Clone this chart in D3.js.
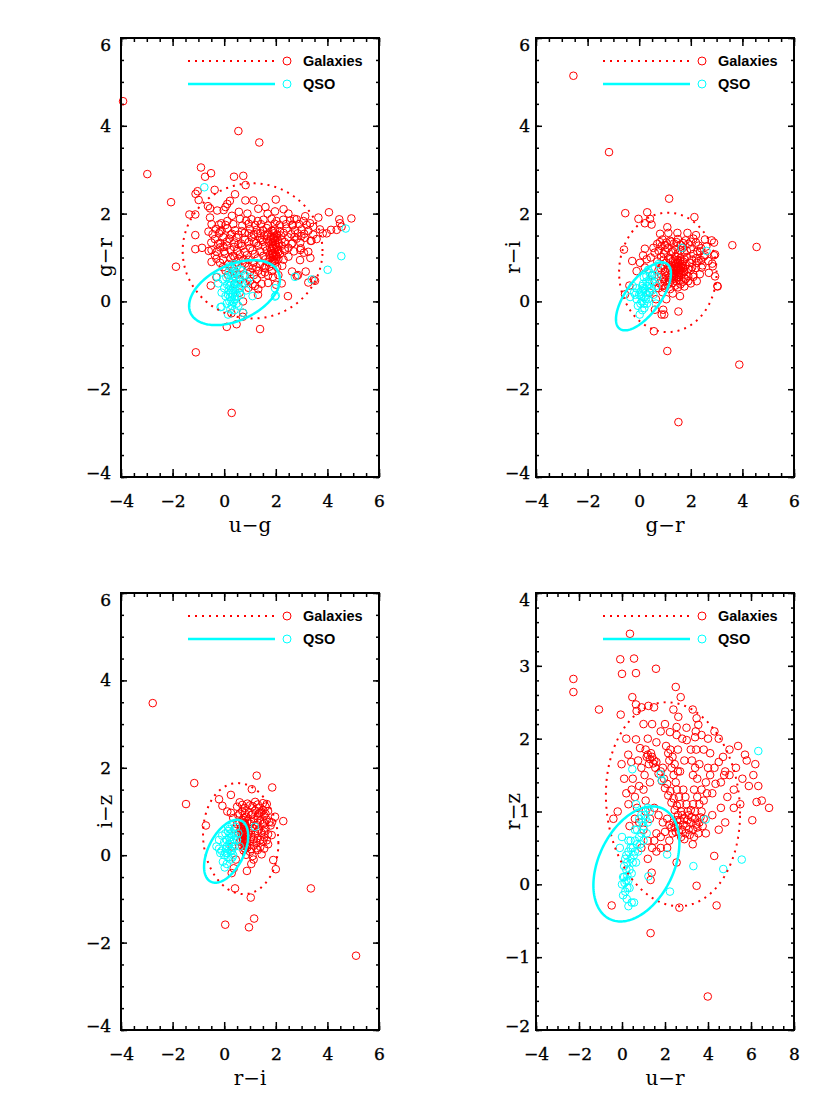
<!DOCTYPE html>
<html>
<head>
<meta charset="utf-8">
<script src="https://cdn.jsdelivr.net/npm/d3@7"></script>
<style>
body { margin: 0; background: #fff; }
</style>
</head>
<body>
<div class="fig"></div>
<script>
// tick labels
var xTicksA = [-4, -2, 0, 2, 4, 6];
var yTicksA = [-4, -2, 0, 2, 4, 6];
var xTicksD = [-4, -2, 0, 2, 4, 6, 8];
var yTicksD = [-2, -1, 0, 1, 2, 3, 4];
var legendNames = ['Galaxies', 'QSO'];

// u-g vs g-r
var galUG = [[-3.92,4.56],[0.55,3.88],[1.36,3.62],[-2.98,2.90],[-0.90,3.05],[-0.51,2.92],[-0.74,2.84],[0.38,2.84],[0.74,2.86],[0.83,2.65],
[-1.03,2.51],[-1.11,2.45],[-0.37,2.54],[-0.99,2.31],[-2.06,2.26],[0.42,2.44],[0.22,2.29],[0.12,2.22],[0.05,2.15],[-0.02,2.08],
[0.82,2.30],[1.13,2.30],[2.00,2.32],[-0.63,2.17],[-0.55,2.12],[-0.27,2.07],[-1.35,1.98],[-1.12,1.98],[0.57,2.04],[1.32,2.11],
[1.68,2.00],[1.97,2.05],[2.49,2.00],[3.14,1.94],[3.65,1.91],[4.06,2.03],[4.93,1.89],[4.46,1.87],[4.49,1.78],[4.55,1.70],
[3.82,1.55],[3.97,1.55],[4.14,1.63],[4.36,1.63],[3.38,1.38],[2.99,1.49],[2.72,1.47],[2.72,1.88],[3.33,1.78],[3.35,1.38],
[2.97,1.21],[3.26,1.13],[2.94,0.94],[2.95,1.17],[3.09,1.11],[3.34,0.99],[2.61,1.31],[2.25,0.81],[2.49,1.02],[2.63,0.68],
[2.86,0.60],[3.16,0.68],[2.81,0.58],[3.26,0.43],[3.47,0.49],[3.52,0.47],[2.47,0.12],[2.01,0.38],[1.89,0.56],[2.23,0.41],
[1.19,0.35],[1.31,0.15],[0.73,-0.26],[0.73,0.00],[1.39,-0.63],[0.72,-0.35],[0.48,-0.52],[0.10,-0.58],[0.28,-0.27],[-0.52,0.36],
[-1.87,0.79],[-1.12,1.19],[-0.86,1.22],[-0.49,1.17],[-0.29,1.13],[-0.49,0.90],[-1.12,1.51],[-1.10,-1.16],[0.29,-2.54],
[-0.55,1.91],[-0.11,1.78],[-0.61,1.59],[-0.49,1.76],[-0.16,1.59],[-0.23,1.31],[-0.03,1.25],
[0.12,1.83],[0.61,1.88],[0.85,1.84],[1.06,1.87],[1.30,1.83],[1.52,1.86],[1.84,1.88],[2.03,1.83],[2.29,1.86],[2.55,1.84],[2.81,1.87],[3.07,1.83],
[-0.32,1.65],[-0.10,1.61],[0.12,1.66],[0.42,1.62],[0.68,1.60],[1.00,1.65],[1.26,1.63],[1.65,1.67],[1.84,1.61],[1.97,1.64],[2.16,1.60],[2.42,1.66],[2.74,1.62],[3.00,1.64],[3.26,1.61],[3.71,1.64],
[-0.36,1.42],[-0.03,1.46],[0.20,1.43],[0.48,1.45],[0.81,1.41],[1.06,1.46],[1.39,1.44],[1.65,1.42],[1.81,1.47],[1.90,1.43],[2.03,1.45],[2.23,1.41],[2.49,1.46],[2.81,1.43],[3.13,1.45],[3.58,1.42],
[-0.16,1.23],[0.10,1.27],[0.38,1.24],[0.68,1.26],[1.00,1.22],[1.32,1.27],[1.58,1.25],[1.77,1.23],[1.90,1.26],[2.03,1.24],[2.23,1.27],[2.49,1.22],
[-0.36,1.05],[0.03,1.08],[0.35,1.04],[0.61,1.07],[0.87,1.05],[1.19,1.08],[1.52,1.04],[1.75,1.06],[1.88,1.07],[2.01,1.05],[2.16,1.08],
[-0.16,0.88],[0.16,0.85],[0.48,0.89],[0.81,0.86],[1.13,0.88],[1.39,0.85],[1.71,0.89],[1.84,0.86],[1.97,0.88],
[0.35,0.69],[1.00,0.67],[1.32,0.70],[1.58,0.66],[1.84,0.69],[0.61,0.50],[1.00,0.47],[1.26,0.51],[0.94,0.31],[1.32,0.28],
[1.92,1.55],[1.95,1.48],[1.88,1.35],[1.98,1.30],[1.93,1.20],[1.96,1.12],[1.90,1.02],[2.00,0.96],[1.94,0.92],[1.85,1.10],
[2.06,1.18],[1.82,1.42],[2.08,1.40],[1.40,1.55],[1.50,1.62],[1.55,1.50],[1.45,1.40],
[0.30,1.95],[0.90,2.00],[1.60,2.15],[2.30,2.10],[2.65,1.75],[3.45,1.70],[0.25,1.52],[0.55,1.30],[0.95,1.55],[1.15,1.35],
[0.75,0.95],[0.40,1.00],[1.10,0.75],[1.60,0.80],[2.35,1.20],[2.20,1.50],[0.05,0.70],[-0.30,0.55],[0.60,0.20],
[-0.20,1.75],[0.05,1.74],[0.35,1.76],[0.70,1.73],[0.95,1.77],[1.20,1.74],[1.42,1.76],[1.70,1.73],[1.95,1.77],[2.15,1.74],[2.40,1.76],[2.65,1.73],[2.90,1.76],[3.20,1.74],
[-0.45,1.53],[-0.20,1.55],[0.30,1.54],[0.55,1.52],[0.80,1.56],[1.15,1.53],[1.30,1.55],[1.70,1.54],[2.05,1.52],[2.30,1.56],[2.60,1.53],[2.85,1.55],[3.10,1.54],[3.45,1.52],
[-0.50,1.34],[-0.15,1.33],[0.10,1.36],[0.40,1.34],[0.65,1.32],[0.95,1.35],[1.25,1.33],[1.50,1.36],[1.72,1.34],[2.12,1.32],[2.35,1.35],[2.65,1.33],[2.95,1.34],
[-0.60,1.15],[0.00,1.14],[0.25,1.17],[0.50,1.15],[0.80,1.13],[1.10,1.16],[1.40,1.14],[1.65,1.16],[1.82,1.15],[2.10,1.13],[2.35,1.16],[2.70,1.14],
[-0.30,0.97],[-0.05,0.96],[0.25,0.98],[0.55,0.97],[0.95,0.95],[1.30,0.98],[1.60,0.96],[1.78,0.98],[2.10,0.97],[2.30,0.95],
[-0.05,0.78],[0.30,0.79],[0.65,0.77],[0.95,0.79],[1.25,0.78],[1.55,0.76],[1.75,0.79],[2.05,0.78],
[0.15,0.60],[0.50,0.61],[0.80,0.59],[1.15,0.60],[1.45,0.62],[1.70,0.59],[2.10,0.60],[0.40,0.40],[0.80,0.41],[1.10,0.39],[1.45,0.40],[1.70,0.42],
[1.90,1.60],[1.95,1.05],[1.88,0.95],[2.02,1.25],[1.97,1.38],[1.86,1.22],[2.04,1.02],[1.92,1.45]];
var qsoUG = [[-0.77,2.60],[4.71,1.66],[4.54,1.03],[4.01,0.72],[3.39,0.50],[2.74,0.56],[1.97,0.30],[2.00,0.13],[0.74,-0.26],[-0.10,-0.12],
[-0.28,0.56],[-0.14,-0.13],[1.10,0.12],[1.97,0.11],[-0.23,0.41],
[0.20,0.00],[0.30,0.10],[0.25,0.20],[0.35,0.30],[0.40,0.05],[0.15,0.15],[0.30,-0.10],[0.45,0.20],[0.50,0.40],[0.20,0.35],
[0.35,0.50],[0.60,0.55],[0.45,0.65],[0.25,0.60],[0.55,0.30],[0.10,-0.05],[0.40,-0.20],[0.20,0.45],[0.65,0.15],[0.70,0.40],
[0.00,0.30],[0.30,0.75],[0.50,0.80],[0.80,0.60],[0.15,-0.30],[0.38,0.38],[0.28,0.02],[0.42,0.12],[0.32,0.25],[0.22,0.10],
[-0.05,0.50],[0.85,0.25],[1.00,0.55],[0.18,0.68],[0.62,0.72],[0.05,0.12],[0.48,-0.05],
[0.33,0.18],[0.27,0.42],[0.38,0.58],[0.52,0.12],[0.18,0.25],[0.43,0.28],[0.24,-0.18],[0.36,-0.02],[0.58,0.45],[0.12,0.38],
[0.47,0.52],[0.30,0.62],[0.08,0.55],[0.62,0.30],[0.55,-0.10],[0.40,0.85],[0.70,0.70],[0.20,0.80],[-0.10,0.20],[0.90,0.45]];
// ellipse: [centre x, centre y, half width, half height, correlation]
var galEllUG = [1.10, 1.15, 2.71, 1.54, 0.0];
var qsoEllUG = [0.40, 0.20, 1.76, 0.74, 0.41];

// g-r vs r-i
var galRG = [[-2.55,5.14],[-1.17,3.40],[1.16,2.34],[-0.54,2.01],[0.31,2.03],[-0.03,1.88],[0.42,1.88],[0.22,1.78],[0.48,1.75],[2.14,1.92],
[3.61,1.28],[4.55,1.24],[-0.59,1.18],[3.88,-1.44],[1.52,-2.75],[1.09,-1.13],[0.57,-0.68],[1.52,-0.23],[1.58,0.12],[3.04,0.34],
[2.83,0.86],[2.90,1.05],[0.93,-0.19],[0.87,-0.30],[0.61,-0.19],[1.09,1.69],[0.81,1.54],[1.13,1.56],[1.48,1.56],[1.87,1.56],
[2.20,1.51],[2.55,1.41],[2.81,1.39],[2.90,1.34],[0.22,1.20],[0.55,1.22],[0.87,1.26],[-0.27,0.92],[0.03,0.88],[0.29,0.96],
[2.36,1.14],[2.55,1.05],[2.68,0.92],[2.85,0.80],[2.94,1.07],[2.94,0.57],[3.03,0.35],[2.23,0.88],[2.42,0.77],[2.10,0.61],
[1.90,0.46],[2.23,0.46],[0.97,-0.30],[-0.55,0.16],[-0.38,0.36],[-0.10,0.69],[0.22,0.77],
[0.90,1.41],[1.20,1.38],[1.50,1.42],[1.80,1.39],[2.10,1.43],[0.70,1.31],[1.00,1.28],[1.35,1.32],[1.60,1.29],[1.90,1.31],[2.30,1.27],
[1.10,1.21],[1.40,1.18],[1.70,1.22],[2.00,1.19],[2.40,1.21],[0.60,1.11],[0.95,1.08],[1.25,1.12],[1.50,1.09],[1.75,1.11],[2.10,1.08],
[0.85,1.01],[1.15,0.98],[1.40,1.02],[1.60,0.99],[1.85,1.01],[2.20,0.98],[2.50,1.02],[0.70,0.91],[1.05,0.88],[1.30,0.92],[1.50,0.89],
[1.70,0.91],[1.95,0.88],[2.30,0.92],[0.90,0.81],[1.20,0.78],[1.40,0.82],[1.60,0.79],[1.80,0.81],[2.05,0.78],[2.45,0.82],
[0.75,0.71],[1.00,0.68],[1.20,0.72],[1.35,0.69],[1.55,0.71],[1.75,0.68],[2.00,0.72],[0.85,0.61],[1.05,0.58],[1.25,0.62],[1.45,0.59],
[1.65,0.61],[1.90,0.58],[2.35,0.62],[0.95,0.51],[1.15,0.48],[1.35,0.52],[1.55,0.49],[1.80,0.51],[0.80,0.41],[1.10,0.38],[1.30,0.42],
[1.60,0.39],[2.00,0.41],[1.00,0.31],[1.20,0.28],[1.50,0.32],[0.90,0.21],[1.30,0.18],
[1.32,0.72],[1.42,0.85],[1.52,0.66],[1.38,0.95],[1.62,0.78],[1.48,0.55],[1.28,0.58],[1.58,0.92],[1.72,0.68],[1.36,0.65],[1.45,0.76],[1.55,0.82],
[0.60,0.45],[0.75,0.30],[0.50,0.60],[0.40,0.20],[0.65,0.05],[1.05,0.05],[0.45,1.00],[0.15,1.05],[2.60,1.25],[2.70,0.65],
[0.80,1.35],[1.05,1.34],[1.25,1.36],[1.45,1.35],[1.70,1.33],[2.00,1.36],[2.20,1.34],
[0.75,1.15],[1.00,1.16],[1.30,1.14],[1.60,1.16],[1.85,1.15],[2.25,1.14],
[0.95,0.95],[1.20,0.96],[1.50,0.94],[1.75,0.96],[2.05,0.95],[2.40,0.94],
[0.85,0.75],[1.10,0.76],[1.30,0.74],[1.50,0.75],[1.70,0.77],[1.90,0.74],[2.20,0.76],
[0.95,0.55],[1.15,0.54],[1.35,0.56],[1.55,0.55],[1.75,0.54],[2.10,0.56],[1.00,0.45],[1.20,0.44],[1.45,0.46],[1.70,0.45],
[0.90,0.35],[1.40,0.36],[1.75,0.34],
[1.45,0.70],[1.50,0.78],[1.60,0.72],[1.40,0.62],[1.55,0.60],[1.65,0.85],[1.35,0.80],[1.50,0.88],[1.60,0.65],[1.70,0.75]];
var qsoRG = [[1.65,1.22],[2.61,1.15],[-0.35,0.10],[-0.20,0.20],[-0.10,0.05],[0.00,0.15],[0.10,0.25],[0.20,0.10],[0.30,0.35],[0.15,0.40],
[0.40,0.50],[0.50,0.45],[0.25,0.20],[0.05,-0.05],[0.35,0.05],[0.45,0.30],[0.60,0.60],[0.55,0.15],[0.20,-0.15],[-0.10,0.30],
[0.10,0.00],[0.30,-0.05],[0.70,0.55],[0.65,0.35],[0.15,0.30],[0.38,0.22],[0.25,0.05],[0.08,0.12],[-0.05,-0.10],[0.28,0.45],
[0.48,0.58],[0.18,0.55],[0.55,0.75],[0.75,0.85],[0.02,-0.30],[0.65,-0.05],[-0.25,0.35],[0.42,0.65],[0.12,-0.20],
[0.22,0.28],[0.32,0.15],[0.12,0.35],[0.40,0.40],[0.05,0.22],[0.28,0.58],[0.50,0.25],[0.35,0.72],[-0.15,0.15],[0.18,-0.05]];
var galEllRG = [1.11, 0.66, 1.89, 1.36, 0.0];
var qsoEllRG = [0.165, 0.115, 1.065, 0.775, 0.67];

// r-i vs i-z
var galRI = [[-2.77,3.48],[-1.16,1.65],[-1.48,1.17],[1.26,1.82],[1.86,1.55],[1.07,1.51],[0.26,1.38],[-0.20,1.28],[-0.07,1.13],[0.12,1.00],
[0.26,0.97],[-0.71,0.68],[2.29,0.78],[1.97,0.88],[5.11,-2.30],[3.36,-0.76],[1.03,-0.97],[0.04,-1.59],[0.96,-1.65],[1.16,-1.45],
[0.42,-0.76],[1.90,-0.11],[2.00,-0.32],[1.84,0.46],[1.05,-0.20],[1.14,-0.10],[0.88,-0.36],[0.29,-0.41],[0.37,-0.30],[1.65,1.17],
[1.52,1.03],[1.39,0.97],
[0.60,1.21],[0.90,1.18],[1.20,1.22],[1.50,1.19],[0.50,1.11],[0.80,1.08],[1.10,1.12],[1.35,1.09],[1.60,1.11],
[0.70,1.01],[0.95,0.98],[1.20,1.02],[1.45,0.99],[1.70,1.01],[0.55,0.91],[0.85,0.88],[1.05,0.92],[1.30,0.89],[1.55,0.91],
[0.70,0.81],[0.90,0.78],[1.15,0.82],[1.40,0.79],[1.65,0.81],[0.50,0.71],[0.80,0.68],[1.00,0.72],[1.25,0.69],[1.50,0.71],[1.80,0.68],
[0.65,0.61],[0.85,0.58],[1.10,0.62],[1.35,0.59],[1.60,0.61],[0.55,0.51],[0.75,0.48],[0.95,0.52],[1.20,0.49],[1.45,0.51],[1.70,0.48],
[0.70,0.41],[0.85,0.38],[1.05,0.42],[1.30,0.39],[1.55,0.41],[0.60,0.31],[0.80,0.28],[1.00,0.32],[1.25,0.29],[1.50,0.31],
[0.70,0.21],[0.90,0.18],[1.15,0.22],[1.40,0.19],[0.75,0.11],[1.00,0.08],[1.30,0.12],[0.85,0.01],[1.10,-0.02],[1.45,0.02],
[0.72,0.75],[0.76,0.65],[0.74,0.55],[0.78,0.45],[0.73,0.35],[0.77,0.25],[0.80,0.15],[0.82,0.62],[0.68,0.48],[0.80,0.38],
[0.35,0.85],[0.40,0.60],[0.30,0.20],[0.45,-0.10],[1.70,0.25],[1.85,0.75],
[0.70,1.15],[1.00,1.14],[1.30,1.16],[0.60,0.95],[0.80,0.96],[1.10,0.94],[1.35,0.96],[1.60,0.95],
[0.60,0.75],[0.80,0.74],[1.05,0.76],[1.30,0.75],[1.55,0.74],[1.75,0.76],[0.65,0.55],[0.85,0.54],[1.05,0.56],[1.30,0.55],[1.55,0.54],
[0.65,0.35],[0.90,0.34],[1.15,0.36],[1.40,0.35],[1.65,0.34],[0.80,0.15],[1.05,0.14],[1.25,0.16],[1.55,0.15],
[0.82,0.50],[0.79,0.70],[0.83,0.30],[0.86,0.20],[0.75,0.85],[0.88,0.42]];
var qsoRI = [[1.19,0.65],[-0.30,0.20],[-0.20,0.35],[-0.10,0.10],[0.00,0.00],[0.10,0.20],[0.20,0.40],[0.05,0.50],[0.15,-0.05],[0.25,0.10],
[0.30,0.30],[0.35,0.50],[0.45,0.65],[0.20,0.60],[-0.05,-0.15],[0.10,-0.20],[0.25,-0.10],[0.40,0.20],[0.50,0.35],[0.00,0.30],
[0.12,0.05],[0.18,0.25],[0.08,0.15],[-0.15,0.05],[0.30,0.70],[-0.08,0.45],[0.35,0.00],[0.55,0.50],[0.22,0.32],[0.02,-0.28],
[0.60,0.20],[0.15,0.55],[0.28,0.42],
[0.20,0.15],[0.10,0.35],[0.30,0.10],[0.05,0.05],[0.25,0.50],[0.38,0.35],[0.15,0.65],[-0.20,0.15],[0.45,0.45],[0.32,-0.05]];
var galEllRI = [0.64, 0.38, 1.46, 1.27, -0.08];
var qsoEllRI = [0.075, 0.09, 0.855, 0.72, 0.49];

// u-r vs r-z
var galUR = [[0.37,3.44],[-0.08,3.09],[0.56,3.10],[0.00,2.89],[0.65,2.90],[1.58,2.96],[-2.26,2.82],[-2.26,2.64],[2.50,2.71],[-1.07,2.40],
[-0.06,2.33],[0.48,2.57],[0.65,2.47],[0.68,2.38],[0.91,2.43],[2.73,2.57],[1.23,2.45],[1.49,2.43],[2.39,2.40],[3.29,2.40],
[2.62,2.30],[2.54,2.16],[2.23,2.09],[2.54,2.05],[3.47,2.28],[3.55,2.19],[3.43,2.10],[3.40,2.02],[3.01,1.98],[0.65,1.99],
[0.84,1.87],[0.29,1.78],[0.43,1.68],[-0.02,1.65],[5.72,1.78],[6.11,1.50],[6.34,1.35],[6.26,1.13],[6.84,1.05],[6.06,0.88],
[4.29,0.39],[3.47,-0.02],[4.40,-0.29],[2.67,-0.32],[-0.48,-0.29],[1.33,-0.67],[3.99,-1.54],[1.38,0.16],[1.33,0.06],[2.54,0.30],[3.29,0.55],
[1.10,1.85],[1.20,1.78],[1.30,1.72],[1.45,1.66],[1.55,1.60],[1.70,1.52],[1.85,1.42],[2.00,1.32],[2.15,1.22],[2.30,1.12],
[2.45,1.02],[2.60,0.95],[1.15,1.75],[1.35,1.80],[1.50,1.70],[1.25,1.65],
[2.05,1.90],[2.15,1.80],[2.20,1.70],[2.30,1.60],[2.40,1.50],[2.50,1.40],[2.55,1.30],[2.65,1.20],[2.70,1.10],[2.75,1.00],
[3.30,1.10],[3.50,1.20],[3.70,1.30],[3.90,1.40],[4.10,1.50],[4.30,1.60],[4.50,1.68],[4.70,1.75],[3.40,1.00],[3.80,1.15],
[4.20,1.25],[4.60,1.40],[5.00,1.50],[5.30,1.60],[4.90,1.20],[5.20,1.30],[5.50,1.10],[4.60,1.05],
[3.35,1.30],[3.30,1.50],[3.25,1.70],[3.20,1.85],[3.50,1.45],[3.60,1.65],[3.80,1.85],[4.00,2.00],[4.30,2.10],[4.10,1.80],
[2.60,0.80],[2.80,0.75],[3.00,0.80],[3.20,0.85],[3.40,0.90],[3.60,0.85],[2.90,0.90],[3.10,0.95],[3.30,0.75],[2.70,0.88],
[3.50,0.78],[3.80,0.90],[2.50,0.72],[2.95,0.70],[3.15,0.68],[2.40,0.85],[2.75,0.65],[3.05,1.00],
[1.60,0.70],[1.80,0.65],[2.00,0.72],[2.20,0.60],[1.90,0.85],[2.10,0.90],[1.70,0.95],[1.40,0.50],[1.60,0.45],[2.30,0.78],
[1.30,0.90],[1.50,1.05],[1.00,0.75],[0.90,0.50],[1.20,0.35],
[0.50,1.45],[0.80,1.35],[0.60,1.20],[1.00,1.30],[0.30,1.10],[0.70,1.05],[1.10,1.15],[-0.40,0.90],[-0.20,1.00],[0.20,1.25],
[0.90,1.60],[1.30,1.40],[4.50,2.00],[5.00,1.85],[5.40,1.90],[5.80,1.70],[6.20,1.65],[4.80,1.55],[5.60,1.45],[4.00,1.60],
[5.90,1.35],[6.50,1.15],[5.20,1.05],[4.20,0.95],[4.80,0.85],[3.90,0.70],[4.50,0.75],
[1.80,2.10],[2.80,2.00],[1.60,1.95],[2.60,1.85],[2.90,1.70],[1.90,1.60],[2.70,1.55],[2.00,2.20],[3.00,2.15],
[2.65,0.72],[2.85,0.82],[3.05,0.88],[3.25,0.92],[3.45,0.82],[3.65,0.92],[2.55,0.88],[2.90,0.62],[3.35,0.65],[3.55,0.70],
[3.75,0.80],[2.45,0.78],[3.10,0.75],[2.80,0.95],[3.20,1.02],[3.70,1.00],[2.35,0.70],[2.20,0.82],
[1.40,1.75],[1.60,1.68],[1.80,1.55],[1.95,1.45],[2.10,1.38],[2.25,1.28],[2.40,1.18],[2.55,1.08],[2.25,1.85],[2.35,1.75],
[2.45,1.65],[2.60,1.55],[2.85,1.30],[2.95,1.20],[3.00,1.10],[3.60,1.10],[3.95,1.25],[4.35,1.38],[4.75,1.50],[3.40,1.60],
[3.45,1.85],[3.70,2.05],
[1.80,0.50],[2.10,0.50],[1.50,0.60],[1.20,0.60],[0.80,0.85],[1.10,1.00],[0.60,0.90],[0.35,0.80],[0.45,1.30],[0.10,1.45],
[0.75,1.70],[1.05,1.50],[0.20,2.00],[1.00,2.20],[1.40,2.20],[1.20,2.00]];
var qsoUR = [[6.34,1.83],[0.48,1.58],[1.80,1.51],[1.85,1.43],[0.65,1.10],[3.32,0.25],[5.57,0.34],[4.71,0.21],[2.23,-0.10],[0.56,-0.25],
[3.89,0.89],[2.10,0.41],[1.23,0.11],
[0.00,0.00],[0.10,0.10],[0.20,0.20],[0.15,-0.10],[0.30,0.05],[0.25,0.30],[0.40,0.35],[0.30,0.45],[0.50,0.50],[0.60,0.60],
[0.70,0.55],[0.80,0.65],[0.90,0.70],[1.00,0.80],[1.10,0.90],[1.20,0.85],[0.55,0.40],[0.45,0.15],[0.20,0.40],[0.10,0.25],
[0.35,-0.05],[0.05,-0.15],[0.60,0.75],[0.90,0.95],[1.30,1.00],[0.75,0.45],[1.00,0.60],[0.40,0.60],[-0.10,0.50],[0.00,0.65],
[0.25,0.12],[0.12,0.02],[0.45,-0.25],[0.30,-0.30],[0.65,0.30],[1.15,0.70],
[0.20,0.05],[0.35,0.20],[0.25,-0.05],[0.50,0.30],[0.15,0.35],[0.70,0.75],[0.85,0.55],[1.05,0.95],[0.40,0.50],[0.05,0.10],
[0.30,0.60],[0.95,0.85],[0.60,0.45],[0.22,-0.20],[1.20,1.05],[0.80,0.90]];
var galEllUR = [2.37, 1.10, 3.12, 1.40, -0.09];
var qsoEllUR = [0.67, 0.28, 2.00, 0.79, 0.37];

var panels = [
	{gal: galUG, qso: qsoUG, galEll: galEllUG, qsoEll: qsoEllUG, xDom: [-4, 6], yDom: [-4, 6], xTicks: xTicksA, yTicks: yTicksA,
	 xMinor: 0.5, yMinor: 0.5, xTitle: 'u\u2212g', yTitle: 'g\u2212r', left: 121, top: 38, h: 439, pad: 10, titleOff: 9},
	{gal: galRG, qso: qsoRG, galEll: galEllRG, qsoEll: qsoEllRG, xDom: [-4, 6], yDom: [-4, 6], xTicks: xTicksA, yTicks: yTicksA,
	 xMinor: 0.5, yMinor: 0.5, xTitle: 'g\u2212r', yTitle: 'r\u2212i', left: 536, top: 38, h: 439, pad: 6, titleOff: 16},
	{gal: galRI, qso: qsoRI, galEll: galEllRI, qsoEll: qsoEllRI, xDom: [-4, 6], yDom: [-4, 6], xTicks: xTicksA, yTicks: yTicksA,
	 xMinor: 0.5, yMinor: 0.5, xTitle: 'r\u2212i', yTitle: 'i\u2212z', left: 121, top: 593, h: 437, pad: 10, titleOff: 9},
	{gal: galUR, qso: qsoUR, galEll: galEllUR, qsoEll: qsoEllUR, xDom: [-4, 8], yDom: [-2, 4], xTicks: xTicksD, yTicks: yTicksD,
	 xMinor: 0.5, yMinor: 0.2, xTitle: 'u\u2212r', yTitle: 'r\u2212z', left: 536, top: 593, h: 437, pad: 6, titleOff: 16}
];

var W = 258;
var RED = '#ff0000', CYAN = '#00ffff';
var numFont = '"DejaVu Serif", serif';

var svg = d3.select('.fig').append('svg')
	.attr('width', 830)
	.attr('height', 1107)
	.style('background-color', '#fff');

function fmt(d) {
	return d < 0 ? '\u2212' + Math.abs(d) : String(d);
}

function ellipsePts(e) {
	var k = Math.sqrt(1 - e[4] * e[4]);
	return d3.range(0, 360, 2).map(function (a) {
		var t = a * Math.PI / 180;
		return [e[0] + e[2] * Math.cos(t), e[1] + e[3] * (e[4] * Math.cos(t) + k * Math.sin(t))];
	});
}

panels.forEach(function (p) {
	var x = d3.scaleLinear().domain(p.xDom).range([p.left, p.left + W]);
	var y = d3.scaleLinear().domain(p.yDom).range([p.top + p.h, p.top]);
	var g = svg.append('g');
	var xMinor = d3.range(p.xDom[0], p.xDom[1] + 1e-9, p.xMinor);
	var yMinor = d3.range(p.yDom[0], p.yDom[1] + 1e-9, p.yMinor);
	var bottom = p.top + p.h, right = p.left + W;

	function addAxis(axis, tx, ty) {
		var a = g.append('g').attr('class', 'ax')
			.attr('transform', 'translate(' + tx + ',' + ty + ')')
			.call(axis);
		a.select('.domain').remove();
		return a;
	}
	// minor ticks on all four sides
	addAxis(d3.axisBottom(x).tickValues(xMinor).tickSize(-4).tickFormat(''), 0, bottom);
	addAxis(d3.axisTop(x).tickValues(xMinor).tickSize(-4).tickFormat(''), 0, p.top);
	addAxis(d3.axisLeft(y).tickValues(yMinor).tickSize(-3).tickFormat(''), p.left, 0);
	addAxis(d3.axisRight(y).tickValues(yMinor).tickSize(-3).tickFormat(''), right, 0);
	// major ticks
	addAxis(d3.axisBottom(x).tickValues(p.xTicks).tickSize(-8).tickPadding(18).tickFormat(fmt), 0, bottom);
	addAxis(d3.axisTop(x).tickValues(p.xTicks).tickSize(-8).tickFormat(''), 0, p.top);
	var ya = addAxis(d3.axisLeft(y).tickValues(p.yTicks).tickSize(-6).tickPadding(p.pad).tickFormat(fmt), p.left, 0);
	addAxis(d3.axisRight(y).tickValues(p.yTicks).tickSize(-6).tickFormat(''), right, 0);
	ya.selectAll('text').attr('y', function (d) {
		return d === p.yDom[1] ? 7 : (d === p.yDom[0] ? -4 : 0);
	});
	g.selectAll('.ax .tick line').attr('stroke', '#000').attr('stroke-width', 1.5);
	g.selectAll('.ax text')
		.style('font-family', numFont)
		.style('font-size', '17px')
		.attr('fill', '#000')
		.attr('stroke', '#000')
		.attr('stroke-width', 0.35);

	// axis titles
	g.append('text')
		.attr('x', p.left + W / 2)
		.attr('y', bottom + 55)
		.attr('text-anchor', 'middle')
		.style('font-family', numFont)
		.style('font-size', '20px')
		.text(p.xTitle);
	g.append('text')
		.attr('transform', 'translate(' + (p.left - p.titleOff) + ',' + (p.top + p.h / 2) + ') rotate(-90)')
		.attr('text-anchor', 'middle')
		.style('font-family', numFont)
		.style('font-size', '20px')
		.text(p.yTitle);

	// points
	g.append('g').selectAll('circle')
		.data(p.gal)
		.enter()
		.append('circle')
		.attr('cx', function (d) { return x(d[0]); })
		.attr('cy', function (d) { return y(d[1]); })
		.attr('r', 3.8)
		.style('fill', 'none')
		.style('stroke', RED)
		.style('stroke-width', 1);
	g.append('g').selectAll('circle')
		.data(p.qso)
		.enter()
		.append('circle')
		.attr('cx', function (d) { return x(d[0]); })
		.attr('cy', function (d) { return y(d[1]); })
		.attr('r', 3.8)
		.style('fill', 'none')
		.style('stroke', CYAN)
		.style('stroke-width', 1);

	// ellipses
	var line = d3.line()
		.x(function (d) { return x(d[0]); })
		.y(function (d) { return y(d[1]); })
		.curve(d3.curveLinearClosed);
	g.append('path')
		.attr('d', line(ellipsePts(p.galEll)))
		.style('fill', 'none')
		.style('stroke', RED)
		.style('stroke-width', 2)
		.style('stroke-dasharray', '2,5');
	g.append('path')
		.attr('d', line(ellipsePts(p.qsoEll)))
		.style('fill', 'none')
		.style('stroke', CYAN)
		.style('stroke-width', 2.5);

	// legend
	[RED, CYAN].forEach(function (c, i) {
		var ly = p.top + 23 + i * 23;
		g.append('line')
			.attr('x1', p.left + 67).attr('x2', p.left + 154)
			.attr('y1', ly).attr('y2', ly)
			.style('stroke', c)
			.style('stroke-width', i === 0 ? 2 : 2.5)
			.style('stroke-dasharray', i === 0 ? '2,5' : null);
		g.append('circle')
			.attr('cx', p.left + 166).attr('cy', ly).attr('r', 4)
			.style('fill', 'none').style('stroke', c).style('stroke-width', 1);
		g.append('text')
			.attr('x', p.left + 182).attr('y', ly + 5)
			.style('font-family', '"Liberation Sans", Arial, sans-serif')
			.style('font-weight', 'bold')
			.style('font-size', '14.5px')
			.text(legendNames[i]);
	});

	// frame
	g.append('rect')
		.attr('x', p.left).attr('y', p.top)
		.attr('width', W).attr('height', p.h)
		.style('fill', 'none')
		.style('stroke', '#000')
		.style('stroke-width', 2);
});
</script>
</body>
</html>
